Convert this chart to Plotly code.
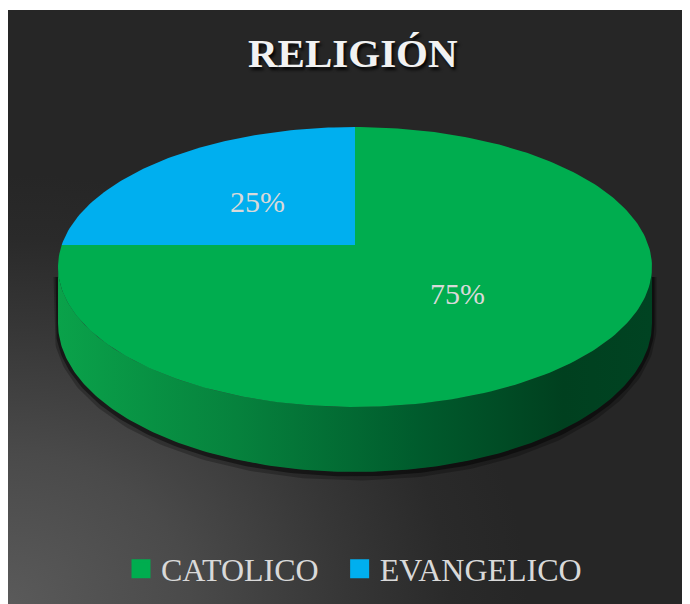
import numpy as np
import plotly.graph_objects as go

# ---------------- data ----------------
categories = ["CATOLICO", "EVANGELICO"]
values = [75, 25]
colors = ["#00AD4F", "#00AFEF"]
title_text = "RELIGIÓN"

# ---------------- geometry (screen px) ----------------
W, H = 690, 604
X0, Y0 = 8, 10            # dark chart area starts here (page body margin = 8)
CX, CY = 355, 245          # projected pie centre
F, G, A = 293.3, 136.5, 0.157   # perspective parameters
T = 54.8                   # thickness of the pie
SERIF = "Liberation Serif, Times New Roman, serif"


def proj(u, v):
    d = 1 + A * v
    return CX + F * u / d, CY - G * v / d


def drop(v):
    return T / (1 + A * v)


fig = go.Figure()

# background radial glow (bottom-left)
bx = [X0 - 520, X0 + 520, X0 + 520, X0 - 520, X0 - 520]
by = [H - 430, H - 430, H + 430, H + 430, H - 430]
fig.add_trace(go.Scatter(
    x=bx, y=by, mode="lines", fill="toself", line=dict(width=0),
    fillgradient=dict(type="radial", colorscale=[
        [0, "#5a5a5a"], [0.35, "#4a4a4a"], [0.65, "#363636"],
        [0.85, "#2a2a2a"], [1, "#262626"]]),
    hoverinfo="skip", showlegend=False))

# side of the pie (front half)
t = np.linspace(np.pi + np.arcsin(A), 2 * np.pi - np.arcsin(A), 200)
u, v = np.cos(t), np.sin(t)
tx, ty = proj(u, v)
bty = ty + drop(v)

# soft shadow under the side
for off, wdt, alpha in [(4, 9, 0.25), (2, 5, 0.45)]:
    fig.add_trace(go.Scatter(
        x=np.concatenate([[tx[0]], tx, [tx[-1]]]),
        y=np.concatenate([[ty[0] + 10], bty + off, [ty[-1] + 10]]),
        mode="lines", line=dict(color=f"rgba(0,0,0,{alpha})", width=wdt),
        hoverinfo="skip", showlegend=False))

fig.add_trace(go.Scatter(
    x=np.concatenate([tx, tx[::-1], [tx[0]]]),
    y=np.concatenate([ty, bty[::-1], [ty[0]]]),
    mode="lines", fill="toself", line=dict(width=0),
    fillgradient=dict(type="horizontal", colorscale=[
        [0, "#0aa24a"], [0.3, "#06823d"], [0.6, "#005c2d"],
        [0.85, "#00401f"], [1, "#004322"]]),
    hoverinfo="skip", showlegend=False))

# top face slices
total = sum(values)
start = 0.0
for name, val, col in zip(categories, values, colors):
    frac = val / total
    phi = np.linspace(start, start + frac * 2 * np.pi, max(3, int(300 * frac)))
    px, py = proj(np.sin(phi), np.cos(phi))
    fig.add_trace(go.Scatter(
        x=np.concatenate([[CX], px, [CX]]),
        y=np.concatenate([[CY], py, [CY]]),
        mode="lines", fill="toself", fillcolor=col, line=dict(width=0, color=col),
        hoverinfo="skip", showlegend=False))
    mid = start + frac * np.pi
    lx, ly = proj(0.48 * np.sin(mid), 0.48 * np.cos(mid))
    fig.add_annotation(x=lx - 3, y=ly, text=f"{round(100 * frac)}%", showarrow=False,
                       font=dict(family=SERIF, size=30, color="#d9d9d9"))
    start += frac * 2 * np.pi

# legend entries
for name, col in zip(categories, colors):
    fig.add_trace(go.Scatter(
        x=[None], y=[None], mode="markers", name=name + "\u00a0\u00a0",
        marker=dict(symbol="square", size=16, color=col,
                    line=dict(width=3, color=col))))

# title
fig.add_annotation(x=353, y=53, text=title_text, showarrow=False,
                   font=dict(family=SERIF, size=41, color="#f2f2f2", weight="bold",
                             shadow="2px 3px 3px rgba(0,0,0,0.85)"))

fig.update_layout(
    width=W - X0, height=H - X0,
    margin=dict(l=0, r=0, t=Y0 - X0, b=0, pad=0),
    paper_bgcolor="white", plot_bgcolor="#262626",
    xaxis=dict(range=[X0, W], visible=False, fixedrange=True),
    yaxis=dict(range=[H, Y0], visible=False, fixedrange=True),
    showlegend=True,
    legend=dict(orientation="h", x=(362 - X0) / (W - X0), y=(H - 569) / (H - Y0),
                xanchor="center", yanchor="middle",
                bgcolor="rgba(0,0,0,0)",
                font=dict(family=SERIF, size=32, color="#d9d9d9")),
)

fig.write_html("out.html")
